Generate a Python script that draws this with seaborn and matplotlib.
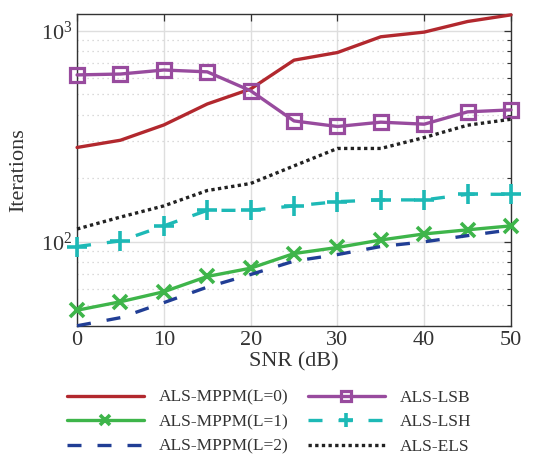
import numpy as np
import pandas as pd
import matplotlib
matplotlib.use("Agg")
import matplotlib.pyplot as plt
import seaborn as sns
from matplotlib.ticker import LogLocator, NullFormatter, FixedLocator

# data
snr = [0, 5, 10, 15, 20, 25, 30, 35, 40, 45, 50]
mppm_l0 = [280, 303, 358, 450, 530, 726, 789, 937, 986, 1107, 1190]
mppm_l1 = [47.4, 52, 58, 68.5, 75, 88, 94, 102, 109, 114, 119]
mppm_l2 = [40, 43.7, 51.5, 61, 70, 81, 87, 95, 100, 107, 114]
lsb = [618, 624, 652, 639, 520, 374, 352, 369, 361, 413, 422]
lsh = [95, 101, 119, 141, 141, 148, 155, 158, 158, 168, 168]
els = [115, 131, 148, 175, 189, 229, 277, 277, 312, 357, 381]

sns.set_style("white")
plt.rcParams['font.family'] = ['Liberation Serif', 'DejaVu Serif']
plt.rcParams['mathtext.fontset'] = 'stix'
plt.rcParams['text.color'] = '#333333'
plt.rcParams['axes.labelcolor'] = '#333333'
plt.rcParams['xtick.color'] = '#333333'
plt.rcParams['ytick.color'] = '#333333'

fig = plt.figure(figsize=(5.39, 4.55), dpi=100)
ax = fig.add_axes([0.143, 0.284, 0.805, 0.685])

# (label, values, color, linestyle, marker, markersize, marker edge width, filled)
series = [
    ("ALS-MPPM(L=0)", mppm_l0, "#B2282E", "-", "None", 0, 0, True),
    ("ALS-MPPM(L=1)", mppm_l1, "#3EB54A", "-", "x", 10, 2.6, True),
    ("ALS-MPPM(L=2)", mppm_l2, "#213E95", (0, (4.2, 4.8)), "None", 0, 0, True),
    ("ALS-LSB", lsb, "#984B9E", "-", "s", 10, 2.3, False),
    ("ALS-LSH", lsh, "#1DB9B6", (0, (4.2, 4.8)), "+", 14, 2.6, True),
    ("ALS-ELS", els, "#222222", (0, (1, 1)), "None", 0, 0, True),
]

handles = []
for name, vals, col, ls, mk, ms, mew, filled in series:
    df = pd.DataFrame({"snr": snr, "it": vals})
    sns.lineplot(data=df, x="snr", y="it", ax=ax, color=col, linewidth=2.4)
    line = ax.lines[-1]
    line.set_linestyle(ls)
    line.set_marker(mk)
    if mk != "None":
        line.set_markersize(ms)
        line.set_markeredgewidth(mew)
        line.set_markeredgecolor(col)
        line.set_markerfacecolor(col if filled else "none")
    line.set_clip_on(False)
    line.set_zorder(3)
    line.set_label(name)
    handles.append(line)

ax.set_yscale("log")
ax.set_xlim(0, 50)
ax.set_ylim(40, 1200)
ax.set_xticks([0, 10, 20, 30, 40, 50])
ax.yaxis.set_major_locator(FixedLocator([100, 1000]))
ax.yaxis.set_minor_locator(LogLocator(base=10, subs=np.arange(2, 10)))
ax.yaxis.set_minor_formatter(NullFormatter())

ax.grid(True, which="major", color="#dedede", linewidth=1.0, linestyle="-")
ax.grid(True, which="minor", axis="y", color="#cfcfcf", linewidth=0.9, linestyle=(0, (1, 3)))
ax.set_axisbelow(True)

ax.tick_params(which="both", direction="in", top=True, right=True, labelsize=16)
ax.tick_params(which="major", length=5, width=0.9)
ax.tick_params(which="minor", length=3, width=0.8)
for s in ax.spines.values():
    s.set_color("#333333")
    s.set_linewidth(1.0)

ax.set_xlabel("SNR (dB)", fontsize=16, labelpad=2)
ax.set_ylabel("Iterations", fontsize=16, labelpad=9)

ax.legend(handles, [h.get_label() for h in handles], ncol=2, loc="upper center",
          bbox_to_anchor=(0.5, 0.178), bbox_transform=fig.transFigure,
          frameon=False, fontsize=12.5, handlelength=4.4, handletextpad=0.9,
          columnspacing=1.1, labelspacing=0.48, markerscale=0.75)

fig.savefig("out.png", dpi=100)
